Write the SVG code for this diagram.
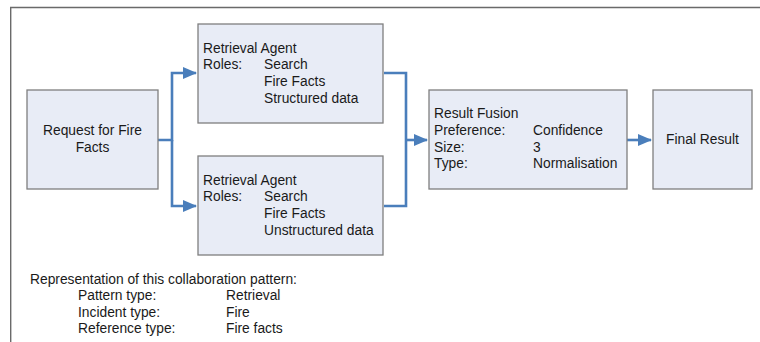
<svg xmlns="http://www.w3.org/2000/svg" width="760" height="342" viewBox="0 0 760 342">
<defs>
<marker id="arr" markerUnits="userSpaceOnUse" markerWidth="14" markerHeight="12" refX="13" refY="6" orient="auto">
<path d="M0,0 L14,6 L0,12 Z" fill="#4a7ebb"/>
</marker>
</defs>
<style>
.box{fill:#e8ecf6;stroke:#7f7f7f;stroke-width:1.3}
.t{font-family:"Liberation Sans",Arial,sans-serif;font-size:13.8px;fill:#1a1a1a}
.c{fill:none;stroke:#4a7ebb;stroke-width:2.6}
.frame{fill:none;stroke:#6a6a6a;stroke-width:1.4}
</style>
<rect width="760" height="342" fill="#ffffff"/>
<path class="frame" d="M10.7,342 V7.5 H760"/>
<g id="connectors">
<path class="c" d="M158,140 H172 V73 H196" marker-end="url(#arr)"/>
<path class="c" d="M172,140 V206 H196" marker-end="url(#arr)"/>
<path class="c" d="M384,73 H406 V206 H384"/>
<path class="c" d="M406,140 H427" marker-end="url(#arr)"/>
<path class="c" d="M627,140 H651" marker-end="url(#arr)"/>
</g>
<g id="request">
<rect class="box" x="27" y="90" width="131" height="99"/>
<text class="t" x="92.5" y="135" text-anchor="middle">Request for Fire</text>
<text class="t" x="92.5" y="152" text-anchor="middle">Facts</text>
</g>
<g id="retrieval1">
<rect class="box" x="198" y="24" width="185" height="99"/>
<text class="t" x="203" y="53">Retrieval Agent</text>
<text class="t" x="203" y="69">Roles:</text>
<text class="t" x="264" y="69">Search</text>
<text class="t" x="264" y="86">Fire Facts</text>
<text class="t" x="264" y="103">Structured data</text>
</g>
<g id="retrieval2">
<rect class="box" x="198" y="156" width="185" height="99"/>
<text class="t" x="203" y="185">Retrieval Agent</text>
<text class="t" x="203" y="201">Roles:</text>
<text class="t" x="264" y="201">Search</text>
<text class="t" x="264" y="218">Fire Facts</text>
<text class="t" x="264" y="235">Unstructured data</text>
</g>
<g id="fusion">
<rect class="box" x="429" y="90" width="198" height="99"/>
<text class="t" x="434" y="118">Result Fusion</text>
<text class="t" x="434" y="135">Preference:</text>
<text class="t" x="533" y="135">Confidence</text>
<text class="t" x="434" y="152">Size:</text>
<text class="t" x="533" y="152">3</text>
<text class="t" x="434" y="168">Type:</text>
<text class="t" x="533" y="168">Normalisation</text>
</g>
<g id="final">
<rect class="box" x="653" y="90" width="99" height="99"/>
<text class="t" x="702.5" y="144" text-anchor="middle">Final Result</text>
</g>
<g id="legend">
<text class="t" x="30" y="284">Representation of this collaboration pattern:</text>
<text class="t" x="78" y="300">Pattern type:</text>
<text class="t" x="226" y="300">Retrieval</text>
<text class="t" x="78" y="317">Incident type:</text>
<text class="t" x="226" y="317">Fire</text>
<text class="t" x="78" y="333">Reference type:</text>
<text class="t" x="226" y="333">Fire facts</text>
</g>
</svg>
